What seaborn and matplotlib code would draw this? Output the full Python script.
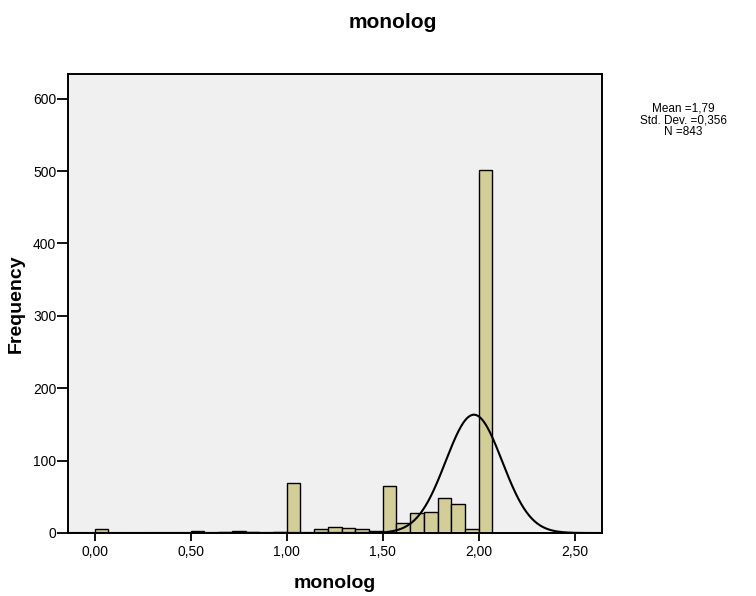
import numpy as np
import pandas as pd
import matplotlib
matplotlib.use("Agg")
import matplotlib.pyplot as plt
import seaborn as sns

# Histogram of "monolog": bins of width 1/14 starting at 0
bin_width = 1 / 14
n_bins = 29
counts = [5, 0, 0, 0, 0, 0, 0, 3, 0, 1, 3, 1, 0, 1, 69, 0,
          6, 8, 7, 5, 3, 65, 14, 27, 29, 49, 40, 5, 502]

# Summary statistics shown beside the plot
stat_mean = "1,79"
stat_sd = "0,356"
stat_n = 843

# Fitted normal curve as drawn over the bars
curve_center = 1.975
curve_sd = 0.147

x_ticks = [0.0, 0.5, 1.0, 1.5, 2.0, 2.5]
x_tick_labels = ["0,00", "0,50", "1,00", "1,50", "2,00", "2,50"]
y_ticks = [0, 100, 200, 300, 400, 500, 600]

sns.set_style("ticks")
plt.rcParams["font.family"] = ["Liberation Sans", "DejaVu Sans"]
plt.rcParams["text.color"] = "black"
plt.rcParams["axes.labelcolor"] = "black"

edges = np.arange(n_bins + 1) * bin_width
centers = edges[:-1] + bin_width / 2
df = pd.DataFrame({"monolog": centers, "count": counts})

fig = plt.figure(figsize=(7.56, 5.96), dpi=100)
ax = fig.add_axes([68 / 756, 1 - 533 / 596, (602 - 68) / 756, (533 - 74) / 596])
ax.set_facecolor("#f0f0f0")

sns.histplot(data=df, x="monolog", weights="count",
             binwidth=bin_width, binrange=(0, n_bins * bin_width), ax=ax,
             color="#d3ce98", alpha=1.0, edgecolor="black", linewidth=1.0)

xs = np.linspace(-0.14, 2.65, 600)
ys = stat_n * bin_width * np.exp(-0.5 * ((xs - curve_center) / curve_sd) ** 2) / (curve_sd * np.sqrt(2 * np.pi))
sns.lineplot(x=xs, y=ys, ax=ax, color="black", linewidth=1.5)

ax.set_xlim(-0.139, 2.642)
ax.set_ylim(0, 634)
ax.set_xticks(x_ticks)
ax.set_xticklabels(x_tick_labels)
ax.set_yticks(y_ticks)
ax.tick_params(axis="x", length=6, width=1.3, pad=3, labelsize=10, colors="black")
ax.tick_params(axis="y", length=8, width=1.3, pad=0.5, labelsize=10, colors="black")

for side in ["left", "right", "top", "bottom"]:
    ax.spines[side].set_visible(True)
    ax.spines[side].set_linewidth(1.4)
    ax.spines[side].set_color("black")

ax.set_xlabel("monolog", fontsize=14, fontweight="bold", labelpad=11)
ax.set_ylabel("Frequency", fontsize=14, fontweight="bold", labelpad=6)

fig.text(0.519, 0.963, "monolog", ha="center", va="center",
         fontsize=15, fontweight="bold")
fig.text(0.904, 0.798,
         f"Mean ={stat_mean}\nStd. Dev. ={stat_sd}\nN ={stat_n}",
         ha="center", va="center", fontsize=8.5, linespacing=0.95)

fig.savefig("out.png", dpi=100)
